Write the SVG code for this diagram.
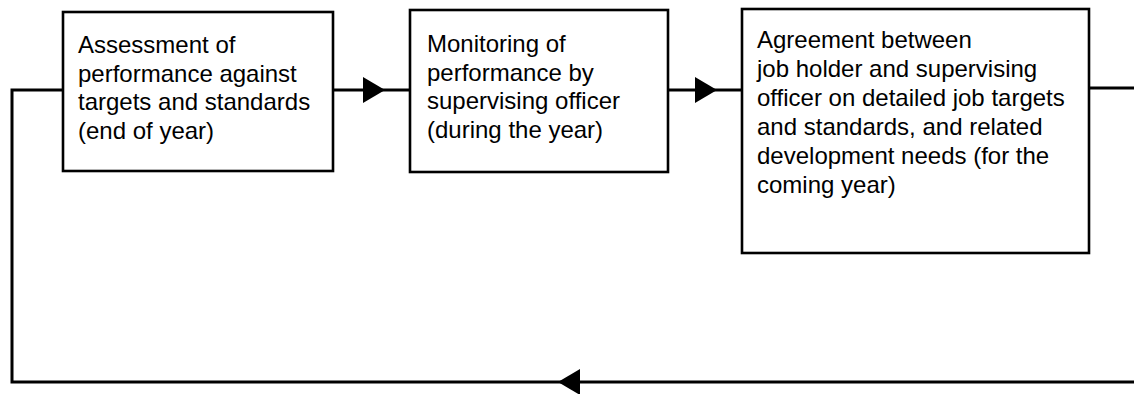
<svg xmlns="http://www.w3.org/2000/svg" width="1134" height="394" viewBox="0 0 1134 394">
<style>
.box{fill:#fff;stroke:#000;stroke-width:2.6}
.lbl{font-family:"Liberation Sans",Arial,sans-serif;font-size:24px;fill:#000}
.conn{fill:none;stroke:#000;stroke-width:3}
</style>
<defs>
<marker id="arr" markerUnits="userSpaceOnUse" markerWidth="22" markerHeight="26" refX="22" refY="13" orient="auto">
<path d="M0,0 L22,13 L0,26 z" fill="#000"/>
</marker>
</defs>
<rect width="1134" height="394" fill="#fff"/>
<g id="connectors">
<path class="conn" d="M63,90 L12,90 L12,382 L558,382"/>
<path class="conn" d="M1134,382 L558,382" marker-end="url(#arr)"/>
<path class="conn" d="M333,90 L385,90" marker-end="url(#arr)"/>
<path class="conn" d="M385,90 L410,90"/>
<path class="conn" d="M668,90 L717,90" marker-end="url(#arr)"/>
<path class="conn" d="M717,90 L742,90"/>
<path class="conn" d="M1089,88 L1134,88"/>
</g>
<g id="node-assessment">
<rect class="box" x="63" y="12" width="270" height="159"/>
<text class="lbl" x="78" y="53">Assessment of</text>
<text class="lbl" x="78" y="81.5">performance against</text>
<text class="lbl" x="78" y="110">targets and standards</text>
<text class="lbl" x="78" y="138.5">(end of year)</text>
</g>
<g id="node-monitoring">
<rect class="box" x="410" y="10" width="258" height="162"/>
<text class="lbl" x="427" y="52">Monitoring of</text>
<text class="lbl" x="427" y="80.5">performance by</text>
<text class="lbl" x="427" y="109">supervising officer</text>
<text class="lbl" x="427" y="137.5">(during the year)</text>
</g>
<g id="node-agreement">
<rect class="box" x="742" y="9" width="347" height="244"/>
<text class="lbl" x="757" y="48">Agreement between</text>
<text class="lbl" x="757" y="77">job holder and supervising</text>
<text class="lbl" x="757" y="106">officer on detailed job targets</text>
<text class="lbl" x="757" y="135">and standards, and related</text>
<text class="lbl" x="757" y="164">development needs (for the</text>
<text class="lbl" x="757" y="193">coming year)</text>
</g>
</svg>
